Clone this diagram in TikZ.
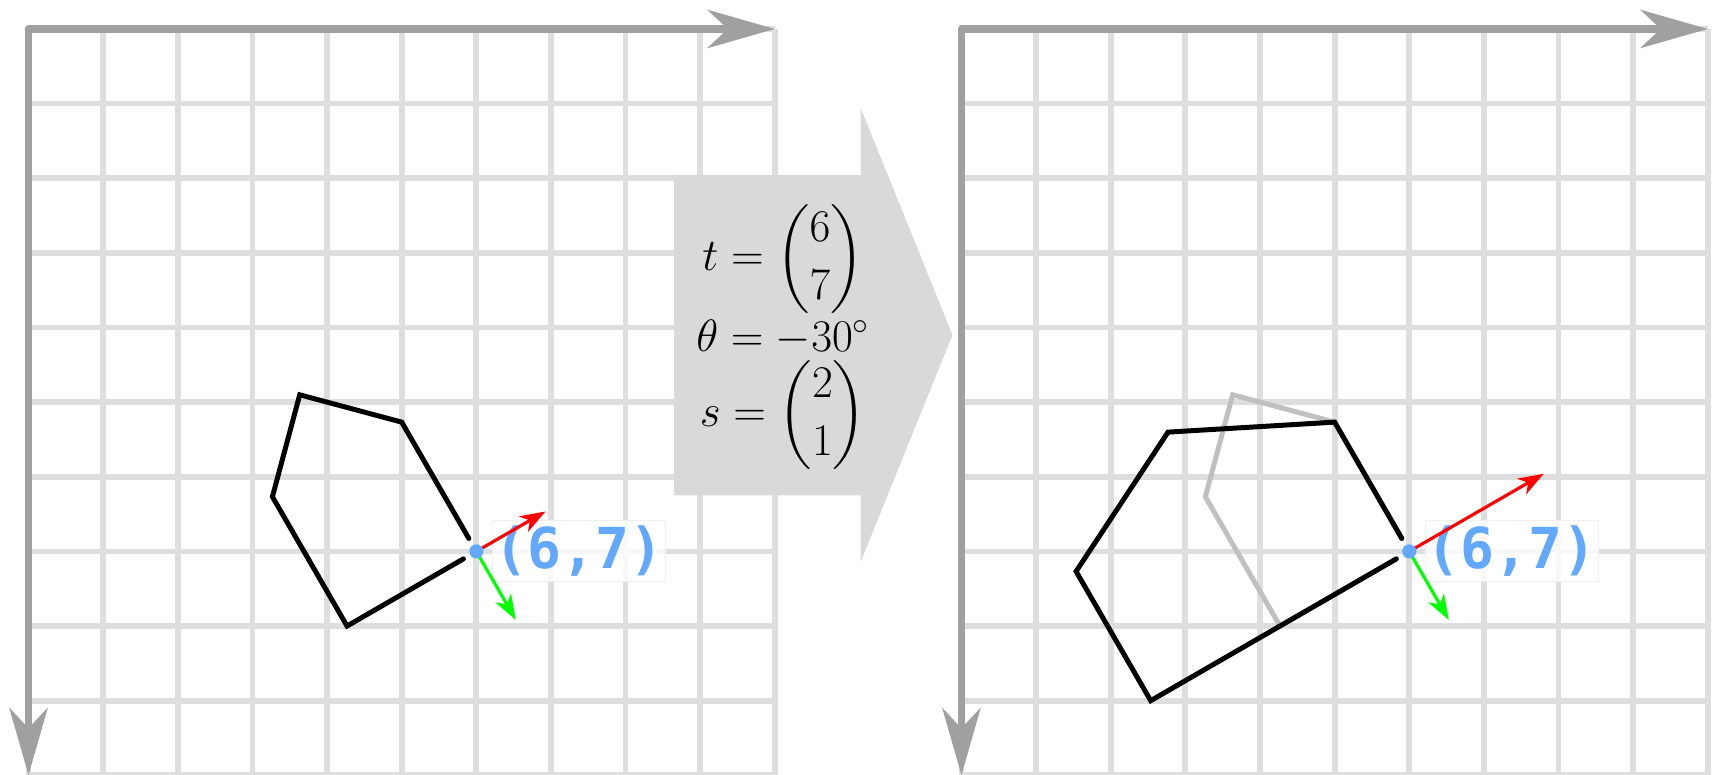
\documentclass[tikz,border=0pt]{standalone}
\usepackage{amsmath}
\usepackage{fontspec}
\usepackage{tikz}
\usetikzlibrary{arrows.meta,positioning}

\newfontfamily\coordfont{DejaVu Sans Mono}

\definecolor{gridgray}{RGB}{222,222,222}
\definecolor{axisgray}{RGB}{160,160,160}
\definecolor{ghostgray}{RGB}{192,192,192}
\definecolor{blockgray}{RGB}{217,217,217}
\definecolor{pointblue}{RGB}{98,168,252}

\begin{document}
\begin{tikzpicture}[
    gridline/.style={draw=gridgray, line width=2.2pt},
    axis/.style={draw=axisgray, line width=3pt, line join=round,
      {Stealth[length=0.9cm, width=0.51cm, inset=0.27cm]}-{Stealth[length=0.9cm, width=0.51cm, inset=0.27cm]}},
    outline/.style={draw=black, line width=1.9pt, line cap=round},
    ghost/.style={draw=ghostgray, line width=1.9pt, line cap=round},
    xdir/.style={draw=red, line width=1.2pt, -{Stealth[length=0.34cm, width=0.24cm, inset=0.1cm]}},
    ydir/.style={draw=green, line width=1.2pt, -{Stealth[length=0.34cm, width=0.24cm, inset=0.1cm]}},
    dot/.style={circle, fill=pointblue, inner sep=0pt, minimum size=0.19cm},
    coordlabel/.style={rectangle, fill=white, fill opacity=0.8, text opacity=1, draw=gray!12, inner xsep=0.02cm, inner ysep=0.07cm, text=pointblue, font=\coordfont\bfseries\fontsize{21.5}{23}\selectfont},
    blockarrow/.style={fill=blockgray},
    params/.style={align=center, font=\LARGE}
  ]
    \useasboundingbox (-0.382,-9.994) rectangle (22.61,0.388);

    % Left panel: before the transform
    \draw[gridline] (0,-10) grid (10,0);
    \draw[axis] (10,0) -- (0,0) -- (0,-10);
    \begin{scope}[shift={(6,-7)}, rotate=30]
      \draw[outline] (0,0.2) -- (0,2) -- (-1,3) -- (-2,2) -- (-2,0) -- (-0.2,0);
      \coordinate (lo) at (0,0);
      \coordinate (lx) at (1.07,0);
      \coordinate (ly) at (0,-1.06);
    \end{scope}
    \node[coordlabel, right=0.21cm of lo] (llab) {(6,7)};
    \draw[xdir] (lo) -- (lx);
    \draw[ydir] (lo) -- (ly);
    \node[dot] (ldot) at (lo) {};

    % Transform parameters
    \fill[blockarrow] (8.65,-1.96) -- (11.15,-1.96) -- (11.15,-1.06) -- (12.38,-4.10)
      -- (11.15,-7.14) -- (11.15,-6.25) -- (8.65,-6.25) -- cycle;
    \node[params] (params) at (10.11,-4.13)
      {$t=\begin{pmatrix}6\\7\end{pmatrix}$\\$\theta=-30^\circ$\\$s=\begin{pmatrix}2\\1\end{pmatrix}$};

    % Right panel: after the transform
    \begin{scope}[xshift=12.5cm]
      \draw[gridline] (0,-10) grid (10,0);
      \draw[axis] (10,0) -- (0,0) -- (0,-10);
      \begin{scope}[shift={(6,-7)}, rotate=30]
        \draw[ghost] (0,0.2) -- (0,2) -- (-1,3) -- (-2,2) -- (-2,0) -- (-0.2,0);
      \end{scope}
      \begin{scope}[shift={(6,-7)}, rotate=30, xscale=2]
        \draw[outline] (0,0.2) -- (0,2) -- (-1,3) -- (-2,2) -- (-2,0) -- (-0.1,0);
        \coordinate (ro) at (0,0);
        \coordinate (rx) at (1.04,0);
        \coordinate (ry) at (0,-1.06);
      \end{scope}
      \node[coordlabel, right=0.21cm of ro] (rlab) {(6,7)};
      \draw[xdir] (ro) -- (rx);
      \draw[ydir] (ro) -- (ry);
      \node[dot] (rdot) at (ro) {};
    \end{scope}

  \end{tikzpicture}
\end{document}
